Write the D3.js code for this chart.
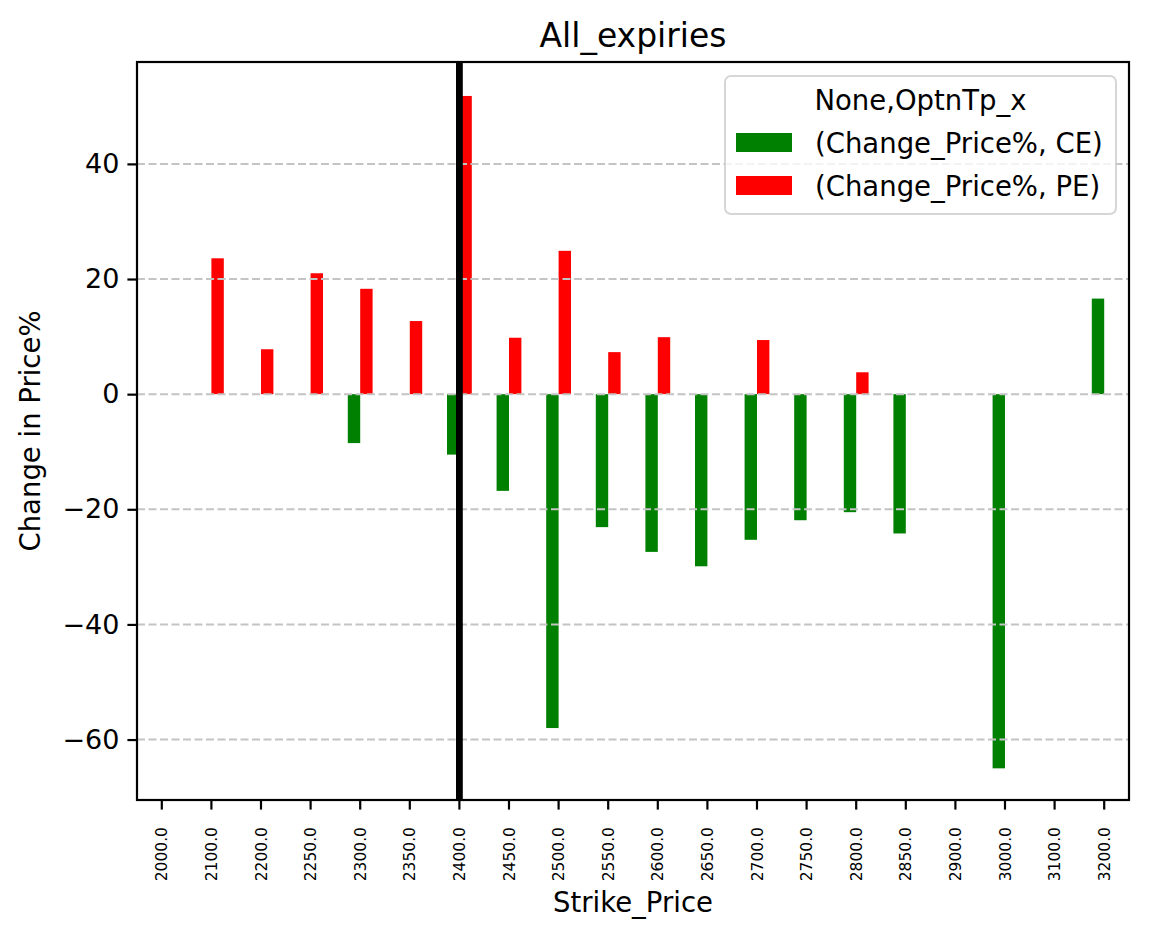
<!DOCTYPE html>
<html>
<head>
<meta charset="utf-8">
<script src="https://cdn.jsdelivr.net/npm/d3@7"></script>
<style>
  body { margin: 0; background: #fff; }
  svg { font-family: "DejaVu Sans", sans-serif; }
</style>
</head>
<body>
<svg id="svg" width="1149" height="939"></svg>
<script>
/* global d3 */

const strikes = [
  "2000.0", "2100.0", "2200.0", "2250.0", "2300.0", "2350.0", "2400.0",
  "2450.0", "2500.0", "2550.0", "2600.0", "2650.0", "2700.0", "2750.0",
  "2800.0", "2850.0", "2900.0", "3000.0", "3100.0", "3200.0"
];

// null = no bar for that strike
const ceChange = [
  null, null, null, null, -8.5, null, -10.5,
  -16.8, -58.0, -23.1, -27.4, -29.9, -25.3, -21.9,
  -20.5, -24.2, null, -65.0, null, 16.6
];

const peChange = [
  null, 23.6, 7.8, 21.0, 18.3, 12.7, 51.8,
  9.8, 24.9, 7.3, 9.9, null, 9.4, null,
  3.8, null, null, null, null, null
];

const yTicks = [-60, -40, -20, 0, 20, 40];
const spotStrike = "2400.0";

const series = [
  { label: "(Change_Price%, CE)", values: ceChange, color: "#008000", offset: -1 },
  { label: "(Change_Price%, PE)", values: peChange, color: "#ff0000", offset: 0 }
];

const plot = { left: 137, right: 1129, top: 62, bottom: 800 };

const svg = d3.select("#svg");

const x = d3
  .scaleBand()
  .domain(strikes)
  .range([plot.left, plot.right])
  .padding(0);

const y = d3
  .scaleLinear()
  .domain([-70.5, 57.7])
  .range([plot.bottom, plot.top]);

const barWidth = x.bandwidth() * 0.25;
const center = s => x(s) + x.bandwidth() / 2;

// bars
series.forEach(sr => {
  const rows = strikes
    .map((s, i) => ({ s, v: sr.values[i] }))
    .filter(d => d.v !== null);
  svg
    .append("g")
    .selectAll("rect")
    .data(rows)
    .join("rect")
    .attr("x", d => center(d.s) + sr.offset * barWidth)
    .attr("width", barWidth)
    .attr("y", d => y(Math.max(0, d.v)))
    .attr("height", d => Math.abs(y(d.v) - y(0)))
    .attr("fill", sr.color);
});

// horizontal grid, drawn over the bars like matplotlib does
svg
  .append("g")
  .selectAll("line")
  .data(yTicks)
  .join("line")
  .attr("x1", plot.left)
  .attr("x2", plot.right)
  .attr("y1", d => y(d))
  .attr("y2", d => y(d))
  .attr("stroke", "#c4c4c4")
  .attr("stroke-width", 2)
  .attr("stroke-dasharray", "8,3.5");

// spot line
svg
  .append("line")
  .attr("x1", center(spotStrike))
  .attr("x2", center(spotStrike))
  .attr("y1", plot.top)
  .attr("y2", plot.bottom)
  .attr("stroke", "#000")
  .attr("stroke-width", 6.8);

// axes
const xAxis = svg
  .append("g")
  .attr("transform", `translate(0,${plot.bottom})`)
  .call(d3.axisBottom(x).tickSize(9.6).tickSizeOuter(0));

xAxis.select(".domain").remove();
xAxis.selectAll(".tick line").attr("stroke-width", 2.2);
xAxis
  .selectAll(".tick text")
  .attr("font-size", 15.5)
  .attr("font-family", "DejaVu Sans")
  .attr("fill", "#000")
  .attr("text-anchor", "end")
  .attr("transform", "rotate(-90)")
  .attr("x", -27)
  .attr("y", 0)
  .attr("dy", "0.36em");

const yAxis = svg
  .append("g")
  .attr("transform", `translate(${plot.left},0)`)
  .call(d3.axisLeft(y).tickValues(yTicks).tickSize(9.6).tickPadding(8));

yAxis.select(".domain").remove();
yAxis.selectAll(".tick line").attr("stroke-width", 2.2);
yAxis
  .selectAll(".tick text")
  .attr("font-size", 27)
  .attr("font-family", "DejaVu Sans")
  .attr("fill", "#000");

// frame
svg
  .append("rect")
  .attr("x", plot.left)
  .attr("y", plot.top)
  .attr("width", plot.right - plot.left)
  .attr("height", plot.bottom - plot.top)
  .attr("fill", "none")
  .attr("stroke", "#000")
  .attr("stroke-width", 2.2);

// labels
svg
  .append("text")
  .attr("x", (plot.left + plot.right) / 2)
  .attr("y", 47)
  .attr("text-anchor", "middle")
  .attr("font-size", 33)
  .text("All_expiries");

svg
  .append("text")
  .attr("x", (plot.left + plot.right) / 2)
  .attr("y", 912)
  .attr("text-anchor", "middle")
  .attr("font-size", 27.5)
  .text("Strike_Price");

svg
  .append("text")
  .attr("transform", `translate(40,${(plot.top + plot.bottom) / 2}) rotate(-90)`)
  .attr("text-anchor", "middle")
  .attr("font-size", 27.5)
  .text("Change in Price%");

// legend
const legend = svg.append("g").attr("transform", "translate(725,76)");

legend
  .append("rect")
  .attr("width", 391)
  .attr("height", 138)
  .attr("rx", 6)
  .attr("fill", "#fff")
  .attr("fill-opacity", 0.8)
  .attr("stroke", "#cccccc")
  .attr("stroke-opacity", 0.8)
  .attr("stroke-width", 2);

legend
  .append("text")
  .attr("x", 195.5)
  .attr("y", 34)
  .attr("text-anchor", "middle")
  .attr("font-size", 27.5)
  .text("None,OptnTp_x");

const entries = legend
  .selectAll("g.entry")
  .data(series)
  .join("g")
  .attr("class", "entry")
  .attr("transform", (d, i) => `translate(0,${57 + i * 43})`);

entries
  .append("rect")
  .attr("x", 11)
  .attr("width", 56)
  .attr("height", 19)
  .attr("fill", d => d.color);

entries
  .append("text")
  .attr("x", 90)
  .attr("y", 20)
  .attr("font-size", 27.5)
  .text(d => d.label);
</script>
</body>
</html>
